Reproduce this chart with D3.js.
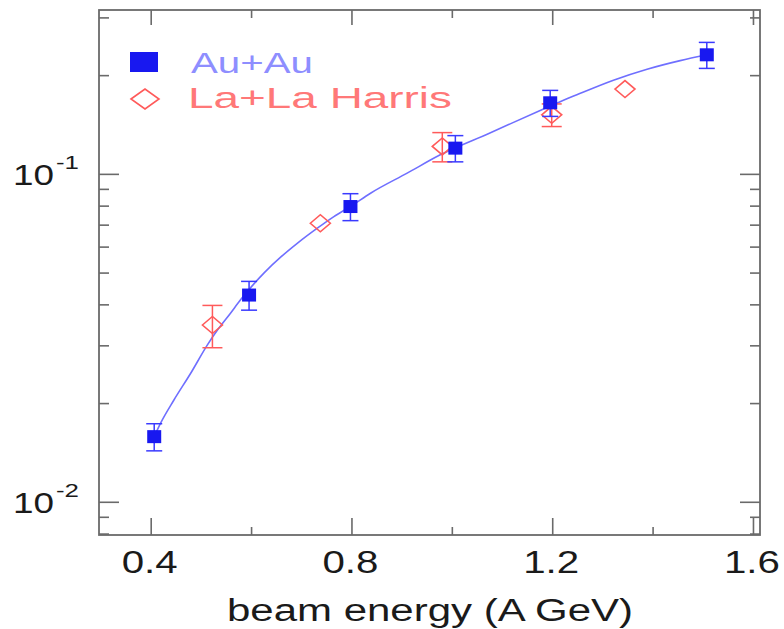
<!DOCTYPE html>
<html><head><meta charset="utf-8">
<script src="https://cdn.jsdelivr.net/npm/d3@7"></script>
<style>body{margin:0;background:#fff}svg{display:block}</style>
</head><body><svg id="c" width="784" height="629"></svg>
<script>
// Au+Au data (blue squares)
const auX = [0.407, 0.596, 0.798, 1.007, 1.196, 1.508];
const auY = [0.0158, 0.0427, 0.0795, 0.1198, 0.1647, 0.2307];
const auErr = [0.0015, 0.0043, 0.0075, 0.011, 0.015, 0.021];
// La+La Harris data (red diamonds)
const laX = [0.523, 0.738, 0.981, 1.199, 1.345];
const laY = [0.0346, 0.0707, 0.1212, 0.1514, 0.1814];
const laErr = [0.0051, 0, 0.0124, 0.012, 0];
// fitted curve
const fitX = [0.407, 0.42, 0.446, 0.48, 0.513, 0.533, 0.559, 0.579, 0.626, 0.66, 0.692, 0.732, 0.765, 0.798, 0.838, 0.911, 0.977, 1.077, 1.176, 1.256, 1.322, 1.389, 1.455, 1.508];
const fitY = [0.0158, 0.0174, 0.0204, 0.0247, 0.0301, 0.0334, 0.0376, 0.0413, 0.0499, 0.0559, 0.0614, 0.0683, 0.0741, 0.0795, 0.0873, 0.1005, 0.1143, 0.1335, 0.156, 0.176, 0.193, 0.2085, 0.2215, 0.2307];
// ticks
const xMajor = [0.4, 0.8, 1.2, 1.6];
const xMinor = [0.6, 1.0, 1.4];
const xLabels = ["0.4", "0.8", "1.2", "1.6"];
const yMajor = [0.01, 0.1];
const yMinor = [0.008, 0.009, 0.02, 0.03, 0.04, 0.05, 0.06, 0.07, 0.08, 0.09, 0.2, 0.3];
const yExp = ["-2", "-1"];
const legendNames = ["Au+Au", "La+La Harris"];
const xTitle = "beam energy (A GeV)";

const L = 99, R = 760, T = 10, B = 535;
const svg = d3.select("#c");
const x = d3.scaleLinear().domain([0.297, 1.614]).range([L, R]);
const y = d3.scaleLog().domain([0.00792, 0.316]).range([B, T]);

const axisColor = "#6a6a6a";
function styleAxis(g) {
  g.select(".domain").remove();
  g.selectAll(".tick line").attr("stroke", axisColor).attr("stroke-width", 1.6);
}
// left
svg.append("g").attr("transform", `translate(${L},0)`).call(d3.axisLeft(y).tickValues(yMajor).tickSize(-20).tickFormat("")).call(styleAxis);
svg.append("g").attr("transform", `translate(${L},0)`).call(d3.axisLeft(y).tickValues(yMinor).tickSize(-10).tickFormat("")).call(styleAxis);
// right
svg.append("g").attr("transform", `translate(${R},0)`).call(d3.axisRight(y).tickValues(yMajor).tickSize(-20).tickFormat("")).call(styleAxis);
svg.append("g").attr("transform", `translate(${R},0)`).call(d3.axisRight(y).tickValues(yMinor).tickSize(-10).tickFormat("")).call(styleAxis);
// bottom
svg.append("g").attr("transform", `translate(0,${B})`).call(d3.axisBottom(x).tickValues(xMajor).tickSize(-17).tickFormat("")).call(styleAxis);
svg.append("g").attr("transform", `translate(0,${B})`).call(d3.axisBottom(x).tickValues(xMinor).tickSize(-8).tickFormat("")).call(styleAxis);
// top
svg.append("g").attr("transform", `translate(0,${T})`).call(d3.axisTop(x).tickValues(xMajor).tickSize(-15).tickFormat("")).call(styleAxis);
svg.append("g").attr("transform", `translate(0,${T})`).call(d3.axisTop(x).tickValues(xMinor).tickSize(-8).tickFormat("")).call(styleAxis);

svg.append("rect").attr("x", L).attr("y", T).attr("width", R - L).attr("height", B - T)
  .attr("fill", "none").attr("stroke", axisColor).attr("stroke-width", 1.8);

const font = "'Liberation Sans', Arial, Helvetica, sans-serif";
// x tick labels
xMajor.forEach((v, i) => {
  const w = 56;
  svg.append("text").attr("x", x(v) - w / 2 - 1).attr("y", 573)
    .attr("font-family", font).attr("font-size", 31).attr("fill", "#1a1a1a")
    .attr("textLength", w).attr("lengthAdjust", "spacingAndGlyphs").text(xLabels[i]);
});
// y tick labels
yMajor.forEach((v, i) => {
  const yy = y(v);
  svg.append("text").attr("x", 13).attr("y", yy + 11)
    .attr("font-family", font).attr("font-size", 30).attr("fill", "#1a1a1a")
    .attr("textLength", 41).attr("lengthAdjust", "spacingAndGlyphs").text("10");
  svg.append("text").attr("x", 56).attr("y", yy - 5)
    .attr("font-family", font).attr("font-size", 18).attr("fill", "#1a1a1a")
    .attr("textLength", 23).attr("lengthAdjust", "spacingAndGlyphs").text(yExp[i]);
});
// x title
svg.append("text").attr("x", 227).attr("y", 621)
  .attr("font-family", font).attr("font-size", 31).attr("fill", "#1a1a1a")
  .attr("textLength", 406).attr("lengthAdjust", "spacingAndGlyphs").text(xTitle);

// fit curve
const fit = fitX.map((v, i) => [v, fitY[i]]);
svg.append("path").datum(fit)
  .attr("d", d3.line().x(d => x(d[0])).y(d => y(d[1])).curve(d3.curveMonotoneX))
  .attr("fill", "none").attr("stroke", "#6f6fff").attr("stroke-width", 1.6);

const red = "#ff5a5a", blue = "#1818f0";
// La+La error bars + diamonds
laX.forEach((v, i) => {
  const cx = x(v), cy = y(laY[i]);
  if (laErr[i] > 0) {
    const y1 = y(laY[i] + laErr[i]), y2 = y(laY[i] - laErr[i]);
    const g = svg.append("g").attr("stroke", red).attr("stroke-width", 1.5);
    g.append("line").attr("x1", cx).attr("x2", cx).attr("y1", y1).attr("y2", y2);
    g.append("line").attr("x1", cx - 10).attr("x2", cx + 10).attr("y1", y1).attr("y2", y1);
    g.append("line").attr("x1", cx - 10).attr("x2", cx + 10).attr("y1", y2).attr("y2", y2);
  }
  svg.append("path").attr("d", `M${cx - 10},${cy}L${cx},${cy - 8.5}L${cx + 10},${cy}L${cx},${cy + 8.5}Z`)
    .attr("fill", "none").attr("stroke", red).attr("stroke-width", 1.6);
});
// Au+Au error bars + squares
auX.forEach((v, i) => {
  const cx = x(v), cy = y(auY[i]);
  const y1 = y(auY[i] + auErr[i]), y2 = y(auY[i] - auErr[i]);
  const g = svg.append("g").attr("stroke", "#3a3aff").attr("stroke-width", 1.5);
  g.append("line").attr("x1", cx).attr("x2", cx).attr("y1", y1).attr("y2", y2);
  g.append("line").attr("x1", cx - 8).attr("x2", cx + 8).attr("y1", y1).attr("y2", y1);
  g.append("line").attr("x1", cx - 8).attr("x2", cx + 8).attr("y1", y2).attr("y2", y2);
  svg.append("rect").attr("x", cx - 7).attr("y", cy - 6.5).attr("width", 14).attr("height", 13).attr("fill", blue);
});

// legend
svg.append("rect").attr("x", 130).attr("y", 52).attr("width", 28).attr("height", 20).attr("fill", blue);
svg.append("path").attr("d", "M131,99L145,89L159,99L145,109Z").attr("fill", "none").attr("stroke", red).attr("stroke-width", 1.6);
svg.append("text").attr("x", 191).attr("y", 73).attr("font-family", font).attr("font-size", 29)
  .attr("fill", "#8e8eff").attr("textLength", 122).attr("lengthAdjust", "spacingAndGlyphs").text(legendNames[0]);
svg.append("text").attr("x", 188).attr("y", 108).attr("font-family", font).attr("font-size", 29)
  .attr("fill", "#ff7878").attr("textLength", 264).attr("lengthAdjust", "spacingAndGlyphs").text(legendNames[1]);
</script></body></html>
